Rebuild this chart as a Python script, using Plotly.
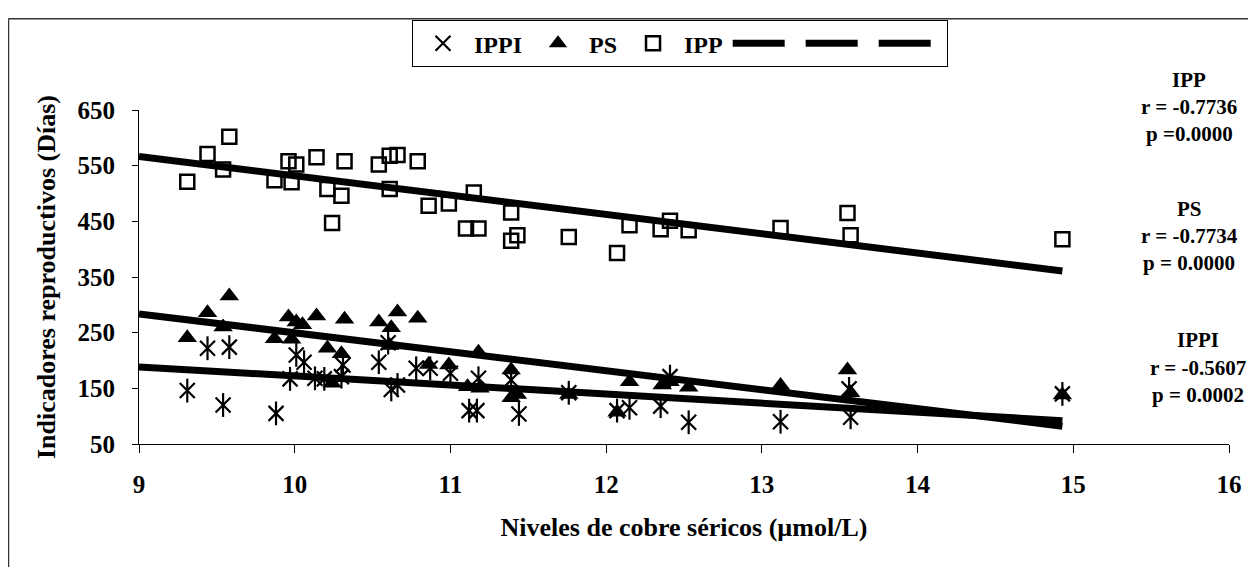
import plotly.graph_objects as go

# ---------------- data ----------------
cu_ipp = [9.31, 9.44, 9.58, 9.54, 9.87, 9.96, 9.98, 10.01, 10.14, 10.21, 10.24, 10.30,
          10.32, 10.54, 10.61, 10.61, 10.66, 10.79, 10.86, 10.99, 11.15, 11.10, 11.18,
          11.39, 11.39, 11.43, 11.76, 12.07, 12.15, 12.35, 12.41, 12.53, 13.12, 13.55,
          13.57, 14.93]
ipp = [521, 571, 602, 543, 524, 558, 520, 552, 565, 508, 447, 496,
       558, 552, 508, 568, 569, 558, 478, 482, 502, 437, 437,
       466, 415, 425, 422, 393, 443, 436, 451, 434, 438, 465,
       425, 418]

cu_ps = [9.31, 9.44, 9.58, 9.54, 9.87, 9.96, 9.98, 10.01, 10.05, 10.14, 10.21, 10.24,
         10.30, 10.32, 10.54, 10.61, 10.62, 10.66, 10.79, 10.86, 10.99, 11.18, 11.11,
         11.19, 11.39, 11.39, 11.43, 11.76, 12.07, 12.15, 12.36, 12.41, 12.53, 13.12,
         13.55, 13.57, 14.93]
ps = [241, 286, 316, 260, 239, 278, 238, 269, 264, 280, 222, 159,
      212, 274, 269, 227, 259, 287, 276, 193, 192, 215, 153,
      150, 183, 133, 139, 139, 107, 162, 156, 162, 152, 155,
      183, 142, 138]

cu_ippi = [9.31, 9.44, 9.58, 9.54, 9.88, 9.97, 10.01, 10.06, 10.13, 10.19, 10.30, 10.31,
           10.54, 10.60, 10.62, 10.66, 10.78, 10.87, 11.00, 11.12, 11.17, 11.18, 11.39,
           11.44, 11.76, 12.07, 12.15, 12.35, 12.41, 12.53, 13.12, 13.57, 13.56, 14.93]
ippi = [146, 222, 224, 120, 105, 167, 210, 197, 168, 167, 171, 192,
        197, 232, 148, 156, 186, 186, 177, 110, 110, 168, 165,
        104, 142, 110, 115, 118, 171, 89, 90, 98, 149, 140]

trend_x = [9.0, 14.93]
ipp_trend = [566.6, 360.8]
ps_trend = [283.7, 82.0]
ippi_trend = [188.5, 92.0]

x_ticks = [9, 10, 11, 12, 13, 14, 15, 16]
y_ticks = [50, 150, 250, 350, 450, 550, 650]

stat_names = ["IPP", "PS", "IPPI"]
stat_r = ["r = -0.7736", "r = -0.7734", "r = -0.5607"]
stat_p = ["p =0.0000", "p = 0.0000", "p = 0.0002"]

# ---------------- layout helpers ----------------
# the page body has an 8px margin, so the figure starts at page (8, 8)
OFF = 8
W, H = 1256 - OFF, 567 - OFF
L, R, T, B = 139 - OFF, 27, 102 - OFF, 123
PW, PH = W - L - R, H - T - B


def px_x(px):  # page x -> paper
    return (px - OFF - L) / PW


def px_y(py):  # page y -> paper
    return (H - B - (py - OFF)) / PH


FONT = "Liberation Serif, Times New Roman, serif"

fig = go.Figure()

fig.add_trace(go.Scatter(x=cu_ippi, y=ippi, mode="markers", name="IPPI",
                         legendgroup="ippi",
                         marker=dict(symbol="x-thin-open", size=15, color="black",
                                     line=dict(color="black", width=2.2))))
fig.add_trace(go.Scatter(x=cu_ippi, y=ippi, mode="markers", name="IPPI",
                         legendgroup="ippi", showlegend=False, hoverinfo="skip",
                         marker=dict(symbol="line-ns-open", size=17, color="black",
                                     line=dict(color="black", width=2.2))))
fig.add_trace(go.Scatter(x=cu_ps, y=ps, mode="markers", name="PS",
                         marker=dict(symbol="triangle-up", size=17, color="black",
                                     line=dict(color="black", width=0))))
fig.add_trace(go.Scatter(x=cu_ipp, y=ipp, mode="markers", name="IPP",
                         marker=dict(symbol="square-open", size=14, color="black",
                                     line=dict(color="black", width=2.5))))
for yy in (ipp_trend, ps_trend, ippi_trend):
    fig.add_trace(go.Scatter(x=trend_x, y=yy, mode="lines", name=" ",
                             line=dict(color="black", width=7)))

annots = []
block_tops = [71, 203, 338]
block_x = [1189, 1189, 1198]
for name, r, p, top, bx in zip(stat_names, stat_r, stat_p, block_tops, block_x):
    for i, txt in enumerate([name, r, p]):
        annots.append(dict(text=txt, x=px_x(bx), y=px_y(top + i * 28),
                           xref="paper", yref="paper", xanchor="center", yanchor="middle",
                           showarrow=False, font=dict(family=FONT, size=21, color="black",
                                                       weight="bold")))

shapes = [
    dict(type="line", xref="paper", yref="paper", x0=px_x(8.5), x1=px_x(1270),
         y0=px_y(8.5), y1=px_y(8.5), line=dict(color="#333", width=1.5)),
    dict(type="line", xref="paper", yref="paper", x0=px_x(8.5), x1=px_x(8.5),
         y0=px_y(8.5), y1=px_y(580), line=dict(color="#333", width=1.5)),
]

fig.update_layout(
    width=W, height=H,
    margin=dict(l=L, r=R, t=T, b=B),
    paper_bgcolor="white", plot_bgcolor="white",
    font=dict(family=FONT, color="black", weight="bold"),
    showlegend=True,
    legend=dict(orientation="h", x=px_x(680), xanchor="center", y=px_y(10), yanchor="top",
                bordercolor="black", borderwidth=1, bgcolor="white",
                font=dict(family=FONT, size=24, color="black", weight="bold"),
                itemwidth=52, tracegroupgap=0),
    xaxis=dict(range=[9, 16], tickvals=x_ticks, showgrid=False, zeroline=False,
               showline=True, linecolor="black", linewidth=1,
               ticks="outside", ticklen=8, tickcolor="black",
               tickfont=dict(family=FONT, size=25, weight="bold"),
               ticklabelstandoff=10,
               title=dict(text="Niveles de cobre séricos (µmol/L)", standoff=20,
                          font=dict(family=FONT, size=26, weight="bold"))),
    yaxis=dict(range=[50, 650], tickvals=y_ticks, showgrid=False, zeroline=False,
               showline=True, linecolor="black", linewidth=1,
               ticks="outside", ticklen=6, tickcolor="black",
               tickfont=dict(family=FONT, size=25, weight="bold"),
               ticklabelstandoff=12,
               title=dict(text="Indicadores reproductivos (Días)", standoff=14,
                          font=dict(family=FONT, size=26, weight="bold"))),
    annotations=annots,
    shapes=shapes,
)

fig.write_html("out.html")
